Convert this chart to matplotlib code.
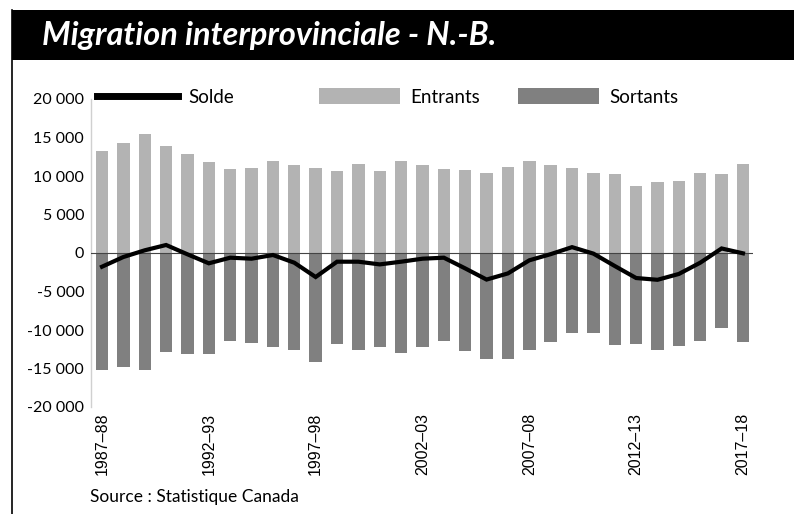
import matplotlib
matplotlib.use("Agg")
import matplotlib.pyplot as plt
from matplotlib.lines import Line2D
from matplotlib.patches import Rectangle, Patch
import numpy as np

years = [f"{y}\u2013{str(y+1)[-2:]}" for y in range(1987, 2018)]
entrants = [13300, 14300, 15500, 13900, 12900, 11800, 10900, 11000, 11900, 11400,
            11000, 10700, 11500, 10700, 11900, 11400, 10850, 10770, 10370, 11150,
            11890, 11460, 11070, 10330, 10200, 8640, 9200, 9380, 10420, 10290, 11590]
sortants = [-15140, -14840, -15230, -12890, -13060, -13150, -11460, -11720, -12200, -12540,
            -14190, -11810, -12540, -12150, -12990, -12150, -11460, -12720, -13720, -13720,
            -12630, -11550, -10330, -10370, -11890, -11850, -12630, -12020, -11370, -9720, -11500]
solde = [-1780, -520, 350, 1040, -170, -1340, -610, -740, -260, -1260,
         -3120, -1130, -1130, -1480, -1130, -740, -610, -2000, -3450, -2650,
         -950, -150, 760, -80, -1690, -3250, -3480, -2720, -1260, 590, -40]
yticks = [20000, 15000, 10000, 5000, 0, -5000, -10000, -15000, -20000]

FONT = ["Lato", "DejaVu Sans"]
C_ENT, C_SOR = "#b3b3b3", "#808080"
W, H = 794, 514
fig = plt.figure(figsize=(W/100, H/100), dpi=100)
fig.patch.set_facecolor("white")

# title bar
fig.patches.append(Rectangle((12/W, 1-60/H), 1-12/W, 50/H, transform=fig.transFigure,
                             facecolor="black", edgecolor="none", zorder=0))
fig.lines.append(Line2D([12/W, 12/W], [0, 1-10/H], transform=fig.transFigure,
                        color="black", lw=1.2))
title = fig.text(42/W, 1-36/H, "Migration interprovinciale - N.-B.", color="white",
                 fontsize=24, fontweight="bold", fontstyle="italic",
                 family=FONT, va="center", ha="left")
fig.canvas.draw()
tw = title.get_window_extent().width
title.set_fontsize(24 * 455 / tw)

ax = fig.add_axes([91/W, 1-407/H, (753-91)/W, (407-99)/H])
x = np.arange(len(years))
ax.bar(x, entrants, width=0.58, color=C_ENT, zorder=2)
ax.bar(x, sortants, width=0.58, color=C_SOR, zorder=2)
ax.axhline(0, color="#444444", lw=0.8, zorder=3)
ax.plot(x, solde, color="black", lw=3, zorder=4, solid_joinstyle="miter")

ax.set_xlim(-0.515, 30.47)
ax.set_ylim(-20000, 20000)
ax.set_yticks(yticks)
ax.set_yticklabels([f"{v:,}".replace(",", " ") for v in yticks],
                   family=FONT, fontsize=11.5)
ax.set_xticks(x[::5])
ax.set_xticklabels(years[::5], rotation=90, family=["Liberation Sans", "DejaVu Sans"],
                   fontsize=11.5)
ax.tick_params(axis="both", length=0)
ax.tick_params(axis="y", pad=5)
ax.tick_params(axis="x", pad=4)
for s in ["top", "right", "bottom"]:
    ax.spines[s].set_visible(False)
ax.spines["left"].set_color("#d0d0d0")
ax.spines["left"].set_linewidth(1)

# legend entries, placed individually (equal-width columns as in the original)
entries = [(Line2D([0], [0], color="black", lw=5), "Solde", 97),
           (Patch(facecolor=C_ENT), "Entrants", 319),
           (Patch(facecolor=C_SOR), "Sortants", 518)]
for h, lab, px in entries:
    fig.legend([h], [lab], loc="center left",
               bbox_to_anchor=(px/W, 1-97/H), frameon=False, handlelength=4.3,
               handleheight=0.9, handletextpad=0.55, borderpad=0,
               borderaxespad=0, prop={"family": FONT, "size": 13.5})

fig.text(90/W, 1-497/H, "Source : Statistique Canada", fontsize=12.5,
         family=FONT, va="center", ha="left")

fig.savefig("out.png", dpi=100)
